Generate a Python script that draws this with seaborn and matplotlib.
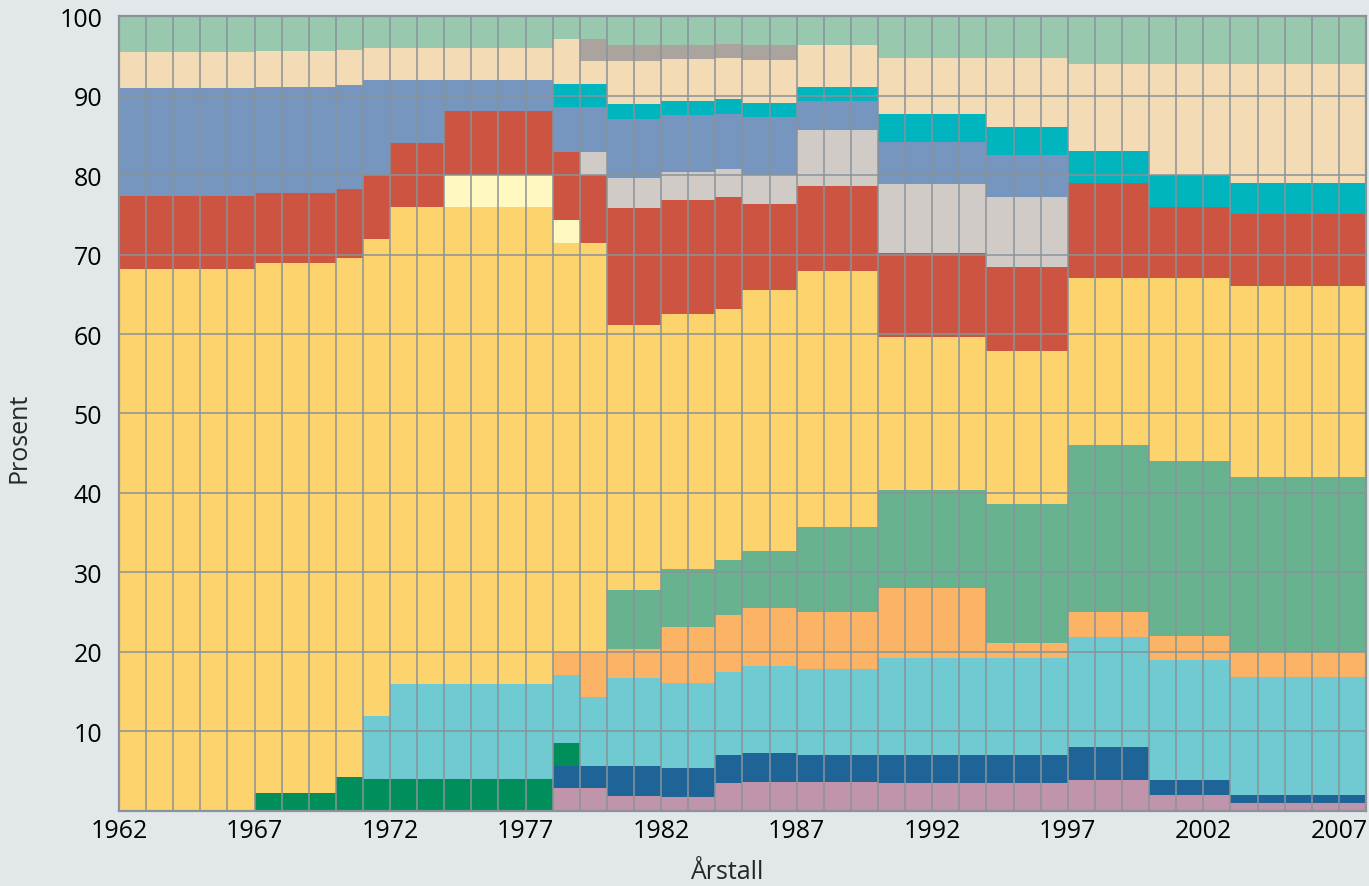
import matplotlib
matplotlib.use("Agg")
import matplotlib.pyplot as plt
from matplotlib.ticker import MultipleLocator
import numpy as np
import pandas as pd
import seaborn as sns

# each period: first year and how many years the composition lasted
period_start = [1962, 1967, 1970, 1971, 1972, 1974, 1978, 1979, 1980, 1982,
                1984, 1985, 1987, 1990, 1994, 1997, 2000, 2003]
period_years = [5, 3, 1, 1, 2, 4, 1, 1, 2, 2, 1, 2, 3, 4, 3, 3, 3, 5]

# share in percent per period, listed bottom layer first
rosa      = [0, 0, 0, 0, 0, 0, 2.9, 2.9, 1.9, 1.8, 3.5, 3.6, 3.6, 3.5, 3.5, 3.9, 2.0, 1.0]
moerkblaa = [0, 0, 0, 0, 0, 0, 2.8, 2.8, 3.7, 3.6, 3.5, 3.7, 3.5, 3.5, 3.5, 4.1, 1.9, 1.0]
moerkgroenn = [0, 2.2, 4.3, 4, 4, 4, 2.9, 0, 0, 0, 0, 0, 0, 0, 0, 0, 0, 0]
lysturkis = [0, 0, 0, 8, 12, 12, 8.5, 8.6, 11.1, 10.7, 10.5, 10.9, 10.8, 12.3, 12.3, 13.9, 15.1, 14.9]
oransje   = [0, 0, 0, 0, 0, 0, 2.9, 5.7, 3.7, 7.1, 7.1, 7.3, 7.1, 8.8, 1.8, 3.1, 3.0, 3.1]
groenn    = [0, 0, 0, 0, 0, 0, 0, 0, 7.4, 7.2, 7.0, 7.2, 10.7, 12.3, 17.5, 21.0, 22.0, 22.0]
gul       = [68.2, 66.7, 65.3, 60, 60, 60, 51.4, 51.4, 33.3, 32.1, 31.6, 32.8, 32.2, 19.2, 19.3, 21.0, 23.0, 24.0]
lysgul    = [0, 0, 0, 0, 0, 4, 2.9, 0, 0, 0, 0, 0, 0, 0, 0, 0, 0, 0]
roed      = [9.1, 8.9, 8.7, 8, 8, 8, 8.6, 8.6, 14.8, 14.3, 14.0, 10.9, 10.7, 10.6, 10.5, 12.0, 9.0, 9.1]
lysgraa   = [0, 0, 0, 0, 0, 0, 0, 2.9, 3.7, 3.6, 3.5, 3.6, 7.1, 8.7, 8.8, 0, 0, 0]
blaa      = [13.6, 13.3, 13.0, 12, 8, 4, 5.7, 5.7, 7.4, 7.1, 7.0, 7.3, 3.6, 5.3, 5.3, 0, 0, 0]
turkis    = [0, 0, 0, 0, 0, 0, 2.8, 2.8, 1.9, 1.8, 1.8, 1.8, 1.8, 3.5, 3.5, 4.0, 4.0, 3.9]
beige     = [4.6, 4.5, 4.4, 4, 4, 4, 5.7, 2.9, 5.5, 5.3, 5.2, 5.4, 5.3, 7.0, 8.7, 11.0, 14.0, 15.0]
graa      = [0, 0, 0, 0, 0, 0, 0, 2.8, 1.9, 1.8, 1.8, 1.9, 0, 0, 0, 0, 0, 0]
lysgroenn = [4.5, 4.4, 4.3, 4, 4, 4, 2.9, 2.9, 3.7, 3.6, 3.5, 3.6, 3.6, 5.3, 5.3, 6.0, 6.0, 6.0]

layers = {
    "rosa": (rosa, "#c094ab"),
    "moerkblaa": (moerkblaa, "#1e6497"),
    "moerkgroenn": (moerkgroenn, "#008f5a"),
    "lysturkis": (lysturkis, "#70cad2"),
    "oransje": (oransje, "#fbb365"),
    "groenn": (groenn, "#67b28f"),
    "gul": (gul, "#fdd36e"),
    "lysgul": (lysgul, "#fff8c1"),
    "roed": (roed, "#cc5440"),
    "lysgraa": (lysgraa, "#d1cbc7"),
    "blaa": (blaa, "#7796bf"),
    "turkis": (turkis, "#00b5bd"),
    "beige": (beige, "#f3dbb5"),
    "graa": (graa, "#aba49e"),
    "lysgroenn": (lysgroenn, "#98c8ae"),
}

years = np.arange(1962, 2008)
rows = []
for name, (vals, col) in layers.items():
    per_year = np.repeat(vals, period_years)
    for yr, v in zip(years, per_year):
        rows.append({"year": yr + 0.5, "andel": v, "gruppe": name})
df = pd.DataFrame(rows)

bg = "#e2e7ea"
grid_col = "#8a9399"
sns.set_theme(style="white")
plt.rcParams["font.family"] = ["Open Sans", "DejaVu Sans"]

fig = plt.figure(figsize=(13.69, 8.87), dpi=100, facecolor=bg)
ax = fig.add_axes([0.0869, 0.0846, 0.9109, 0.8962])

palette = {name: col for name, (vals, col) in layers.items()}
# seaborn stacks the first hue level on top, so hand it the top layer first
order = list(layers.keys())[::-1]
sns.histplot(data=df, x="year", weights="andel", hue="gruppe", hue_order=order,
             multiple="stack", binwidth=1, binrange=(1962, 2008), palette=palette,
             alpha=1, linewidth=0, legend=False, ax=ax)

ax.set_xlim(1962, 2008)
ax.set_ylim(0, 100)
ax.set_xticks(np.arange(1962, 2008, 5))
ax.xaxis.set_minor_locator(MultipleLocator(1))
ax.set_yticks(np.arange(10, 101, 10))
ax.tick_params(axis="both", which="both", length=0, labelsize=18, colors="black")
ax.tick_params(axis="x", pad=5)
ax.tick_params(axis="y", pad=12)

ax.set_axisbelow(False)
ax.grid(True, which="major", axis="y", color=grid_col, linewidth=1.1)
ax.grid(True, which="both", axis="x", color=grid_col, linewidth=1.1)
for s in ax.spines.values():
    s.set_color(grid_col)
    s.set_linewidth(1.6)

ax.set_xlabel("Årstall", fontsize=18)
ax.set_ylabel("Prosent", fontsize=18)
ax.xaxis.set_label_coords(0.4876, -0.061)
ax.yaxis.set_label_coords(-0.07, 0.47)

fig.savefig("out.png", dpi=100, facecolor=bg)
